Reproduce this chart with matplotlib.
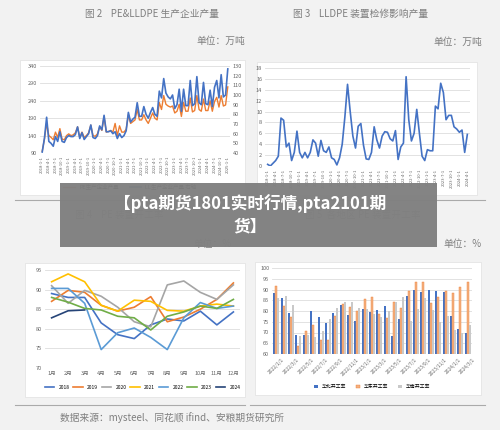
import matplotlib
matplotlib.use("Agg")
import numpy as np
import matplotlib.pyplot as plt
from matplotlib.patches import Rectangle

plt.rcParams['font.family'] = ['Noto Sans CJK SC', 'DejaVu Sans']

# 图2 PE&LLDPE 生产企业产量
pe_output = [95, 130, 175, 140, 135, 128, 150, 135, 160, 130, 128, 140, 145, 140, 142, 148, 165,
             135, 150, 135, 140, 148, 170, 140, 138, 145, 165, 155, 195, 150, 152, 155, 150, 175,
             140, 168, 150, 150, 158, 200, 175, 180, 185, 215, 185, 185, 200, 185, 175, 190, 205,
             190, 185, 235, 215, 255, 230, 225, 222, 225, 205, 210, 230, 195, 235, 210, 210, 248,
             208, 212, 255, 215, 210, 245, 212, 212, 240, 210, 238, 250, 222, 255, 225, 228, 280]
lldpe_output = [41, 55, 77, 52, 50, 47, 57, 52, 62, 52, 51, 56, 58, 57, 57, 59, 67, 55, 61, 54,
                57, 60, 69, 56, 55, 58, 68, 64, 79, 62, 62, 63, 60, 62, 55, 60, 56, 58, 63, 82,
                72, 75, 77, 92, 78, 78, 88, 80, 76, 82, 87, 80, 78, 104, 97, 117, 102, 98, 96, 100,
                86, 90, 106, 83, 106, 89, 89, 115, 89, 91, 119, 92, 90, 113, 91, 90, 105, 88, 108,
                115, 97, 121, 98, 100, 127]
# 图3 LLDPE 装置检修影响产量
lldpe_loss = [0.3, 0, 0.5, 1, 1.8, 8.8, 8.4, 3.5, 4.2, 1, 2.5, 6.4, 2.5, 1.5, 2.5, 1.5, 2.5, 4.8,
              4.2, 1.8, 4.7, 2.8, 2.5, 3.5, 1.5, 1.2, 0.2, 1.5, 4, 9, 15, 10, 5.5, 3.3, 7.3, 7.8,
              3.8, 1.3, 1.2, 2.5, 7.2, 4.8, 3.3, 5.5, 6.3, 6.2, 5, 4.6, 6.5, 1.2, 3.5, 4.2, 16.4,
              8.5, 4.6, 6, 10.4, 6, 1.8, 1, 3, 2.8, 2.8, 11, 10.5, 15.2, 13.5, 8.5, 9.3, 9.3, 7.2,
              6.8, 6.2, 6.6, 2.5, 5.8]
# 图4 PE 装置开工率
months = ['1月', '2月', '3月', '4月', '5月', '6月', '7月', '8月', '9月', '10月', '11月', '12月']
years = ['2018', '2019', '2020', '2021', '2022', '2023', '2024']
rate_2018 = [89, 88, 88, 81.5, 78.5, 77.5, 81, 82.5, 82, 84.5, 81, 84.3]
rate_2019 = [87, 89.8, 89.3, 86, 84.5, 85.5, 88.2, 81.8, 83, 85, 87.5, 91.7]
rate_2020 = [91, 86.5, 89.8, 88.3, 85.5, 81.8, 80.5, 91.2, 92.2, 89.3, 87.5, 91.2]
rate_2021 = [92, 94, 92, 86, 84.5, 87.3, 87, 84.7, 84.5, 85.8, 86.3, 85.8]
rate_2022 = [90.3, 90.3, 86.5, 74.7, 79, 80.2, 77.8, 74.7, 82.8, 86.7, 85.2, 85.8]
rate_2023 = [88, 86.8, 85.2, 84.8, 83.2, 82.8, 79.7, 83.2, 84.3, 85.8, 85.2, 87.5]
rate_2024 = [82.8, 84.6, 84.8]
# 图5 各地区 PE 装置开工率
north = [88.5, 86, 79, 69, 69, 80, 77, 74.5, 79, 83, 78, 75.5, 81, 79.5, 80.3, 82.5, 68.3, 76.5,
         87, 90, 89, 90, 89.5, 89, 77.5, 71.7, 70]
east = [91.5, 82.3, 77.3, 63.5, 70.8, 73.5, 66.3, 66.3, 77.5, 83.2, 81.8, 79.8, 85.8, 86.5, 78.7,
        76.8, 84.2, 81.5, 89.2, 93.5, 93.7, 83.8, 86.5, 89.3, 88.3, 91.1, 93.4]
south = [86, 87, 83, 68.5, 69, 68, 70.5, 76.5, 81.5, 84, 84, 81.5, 81, 78.5, 77.2, 80, 84, 86.5,
         75.5, 80.7, 86, 80.5, 75, 77.8, 71.3, 70, 73.3]
region_labels = ['2022/1/1', '2022/3/1', '2022/5/1', '2022/7/1', '2022/9/1', '2022/11/1',
                 '2023/1/1', '2023/3/1', '2023/5/1', '2023/7/1', '2023/9/1', '2023/11/1',
                 '2024/1/1', '2024/3/1']

W, H = 500, 430
fig = plt.figure(figsize=(5, 4.3), dpi=100, facecolor='#f2f2f2')
gray = '#7f7f7f'


def box(x0, y0, x1, y1):
    return [x0 / W, 1 - y1 / H, (x1 - x0) / W, (y1 - y0) / H]


def style(ax):
    ax.set_facecolor('white')
    for s in ax.spines.values():
        s.set_visible(False)
    ax.tick_params(length=0, labelsize=4, colors='#666666', pad=2)
    ax.grid(axis='y', color='#dddddd', lw=0.6)
    ax.set_axisbelow(True)


# white card backgrounds
for x0, y0, x1, y1 in [(20, 60, 245, 195), (257, 62, 477, 195), (25, 263, 245, 397), (255, 262, 481, 395)]:
    fig.patches.append(Rectangle((x0 / W, 1 - y1 / H), (x1 - x0) / W, (y1 - y0) / H,
                                 transform=fig.transFigure, fc='white', ec='#e0e0e0', lw=0.5,
                                 zorder=-5))
for x0, x1, y in [(15, 245, 200), (250, 485, 200), (15, 245, 405), (250, 485, 405)]:
    fig.add_artist(plt.Line2D([x0 / W, x1 / W], [1 - y / H] * 2, color='#aaaaaa', lw=0.8, zorder=-5))

fig.text(85 / W, 1 - 14 / H, '图 2    PE&LLDPE 生产企业产量', fontsize=7, color=gray, va='center')
fig.text(245 / W, 1 - 41 / H, '单位：万吨', fontsize=7, color=gray, ha='right', va='center')
fig.text(293 / W, 1 - 14 / H, '图 3    LLDPE 装置检修影响产量', fontsize=7, color=gray, va='center')
fig.text(482 / W, 1 - 42 / H, '单位：万吨', fontsize=7, color=gray, ha='right', va='center')
fig.text(75 / W, 1 - 215 / H, '图 4    PE 装置开工率', fontsize=7, color=gray, va='center')
fig.text(305 / W, 1 - 215 / H, '图 5  各地区 PE 装置开工率', fontsize=7, color=gray, va='center')
fig.text(232 / W, 1 - 244 / H, '单位：%', fontsize=7, color=gray, ha='right', va='center')
fig.text(482 / W, 1 - 244 / H, '单位：%', fontsize=7, color=gray, ha='right', va='center')
fig.text(60 / W, 1 - 418 / H, '数据来源：mysteel、同花顺 ifind、安粮期货研究所', fontsize=7, color=gray, va='center')

# 图2
ax1 = fig.add_axes(box(40, 66, 230, 153))
style(ax1)
x = np.arange(len(pe_output))
ax1.plot(x, pe_output, color='#ed7d31', lw=1, label='PE生产企业产量')
ax1.set_ylim(90, 340)
ax1.set_yticks([90, 140, 190, 240, 290, 340])
ax1b = ax1.twinx()
for s in ax1b.spines.values():
    s.set_visible(False)
ax1b.tick_params(length=0, labelsize=4, colors='#666666', pad=2)
ax1b.plot(x, lldpe_output, color='#4472c4', lw=1.2, label='LL生产企业产量 右轴')
ax1b.set_ylim(40, 130)
ax1b.set_yticks(range(40, 131, 10))
xt = x[::3]
ax1.set_xticks(xt)
ax1.set_xticklabels([f'{2018 + i // 12}-{i % 12 + 1}-1' for i in xt], rotation=90, fontsize=3)
ax1.set_xlim(-1, len(x))
fig.legend(handles=ax1.get_lines() + ax1b.get_lines(), loc='center', bbox_to_anchor=(130 / W, 1 - 187 / H),
           ncol=2, fontsize=4, frameon=False, handlelength=2)

# 图3
ax2 = fig.add_axes(box(265, 68, 470, 166))
style(ax2)
x2 = np.arange(len(lldpe_loss))
ax2.plot(x2, lldpe_loss, color='#4472c4', lw=1.2)
ax2.set_ylim(0, 18)
ax2.set_yticks(range(0, 19, 2))
xt2 = x2[::3]
ax2.set_xticks(xt2)
ax2.set_xticklabels([f'{2018 + i // 12}-{i % 12 + 1}-1' for i in xt2], rotation=90, fontsize=3)
ax2.set_xlim(-1, len(x2))

# 图4
ax3 = fig.add_axes(box(45, 270, 240, 368))
style(ax3)
cols = ['#4472c4', '#ed7d31', '#a5a5a5', '#ffc000', '#5b9bd5', '#70ad47', '#264478']
series = [rate_2018, rate_2019, rate_2020, rate_2021, rate_2022, rate_2023, rate_2024]
for yr, vals, c in zip(years, series, cols):
    ax3.plot(range(len(vals)), vals, color=c, lw=1.2, label=yr)
ax3.set_ylim(70, 95)
ax3.set_yticks(range(70, 96, 5))
ax3.set_xticks(range(12))
ax3.set_xticklabels(months)
ax3.set_xlim(-0.4, 11.4)
ax3.legend(loc='center', bbox_to_anchor=(0.5, -0.2), ncol=7, fontsize=3.5, frameon=False,
           handlelength=2, columnspacing=0.8)

# 图5
ax4 = fig.add_axes(box(272, 268, 472, 354))
style(ax4)
xg = np.arange(len(north))
bw = 0.27
ax4.bar(xg - bw, north, bw, color='#4472c4', label='华北开工率')
ax4.bar(xg, east, bw, color='#f4b183', ec='#ed7d31', lw=0.3, label='华东开工率')
ax4.bar(xg + bw, south, bw, color='#c9c9c9', label='华南开工率')
ax4.set_ylim(60, 100)
ax4.set_yticks(range(60, 101, 5))
ax4.set_xticks(xg[::2])
ax4.set_xticklabels(region_labels, rotation=45, fontsize=3.5)
ax4.set_xlim(-0.6, len(xg) - 0.4)
ax4.legend(loc='center', bbox_to_anchor=(0.5, -0.38), ncol=3, fontsize=3.5, frameon=False,
           handlelength=0.8)

# overlay banner
fig.patches.append(Rectangle((60 / W, 1 - 247 / H), 377 / W, 64 / H, transform=fig.transFigure,
                             fc='#808080', ec='none', alpha=0.97, zorder=10))
fig.text(250 / W, 1 - 215 / H, '【pta期货1801实时行情,pta2101期\n货】', fontsize=12, color='white',
         fontweight='black', ha='center', va='center', zorder=11, linespacing=1.3)

fig.savefig('out.png', dpi=100, facecolor=fig.get_facecolor())
